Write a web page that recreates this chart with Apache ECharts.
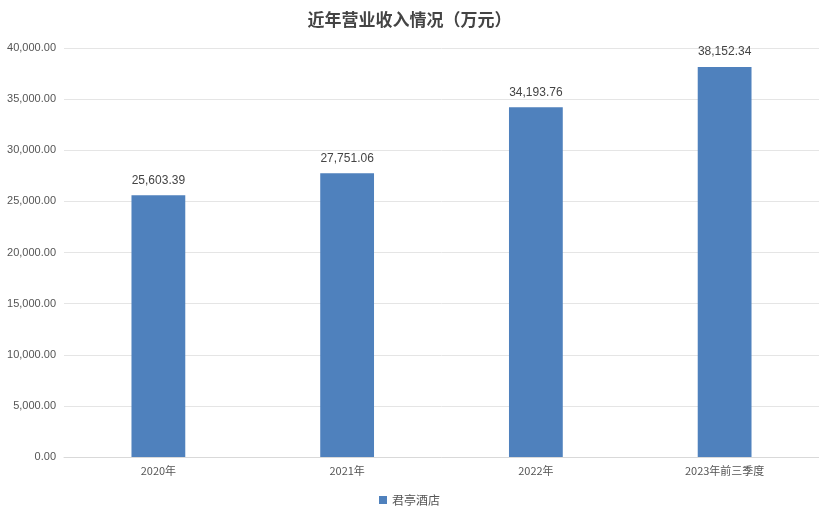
<!DOCTYPE html>
<html><head><meta charset="utf-8">
<script src="https://cdn.jsdelivr.net/npm/echarts@6/dist/echarts.min.js"></script>
<style>html,body{margin:0;padding:0;background:#fff}#c{width:819px;height:519px}</style>
</head><body><div id="c"></div>
<script>
const categories = ['2020年','2021年','2022年','2023年前三季度'];
const values = [25603.39, 27751.06, 34193.76, 38152.34];
const seriesName = '君亭酒店';
const fmt = v => v.toLocaleString('en-US',{minimumFractionDigits:2,maximumFractionDigits:2});
const chart = echarts.init(document.getElementById('c'));
chart.setOption({
  animation:false,
  title:{text:'近年营业收入情况（万元）',left:'center',top:6,textStyle:{fontSize:17,fontWeight:'bold',color:'#444',fontFamily:'Noto Sans CJK SC'}},
  legend:{bottom:8,itemWidth:8,itemHeight:8,icon:'rect',textStyle:{fontSize:12,color:'#555',fontFamily:'Noto Sans CJK SC'}},
  grid:{left:64,right:-2,top:48,bottom:62},
  xAxis:{type:'category',data:categories,axisTick:{show:false},axisLine:{lineStyle:{color:'#d9d9d9'}},axisLabel:{color:'#555',fontSize:11,fontFamily:'Noto Sans CJK SC'}},
  yAxis:{type:'value',min:0,max:40000,interval:5000,axisLabel:{formatter:fmt,color:'#555',fontSize:11},splitLine:{lineStyle:{color:'#e5e5e5'}},axisLine:{show:false},axisTick:{show:false}},
  series:[{name:seriesName,type:'bar',data:values,barWidth:'28.5%',itemStyle:{color:'#4f81bd'},
    label:{show:true,position:'top',distance:9,formatter:p=>fmt(p.value),color:'#444',fontSize:12}}]
});
</script></body></html>
